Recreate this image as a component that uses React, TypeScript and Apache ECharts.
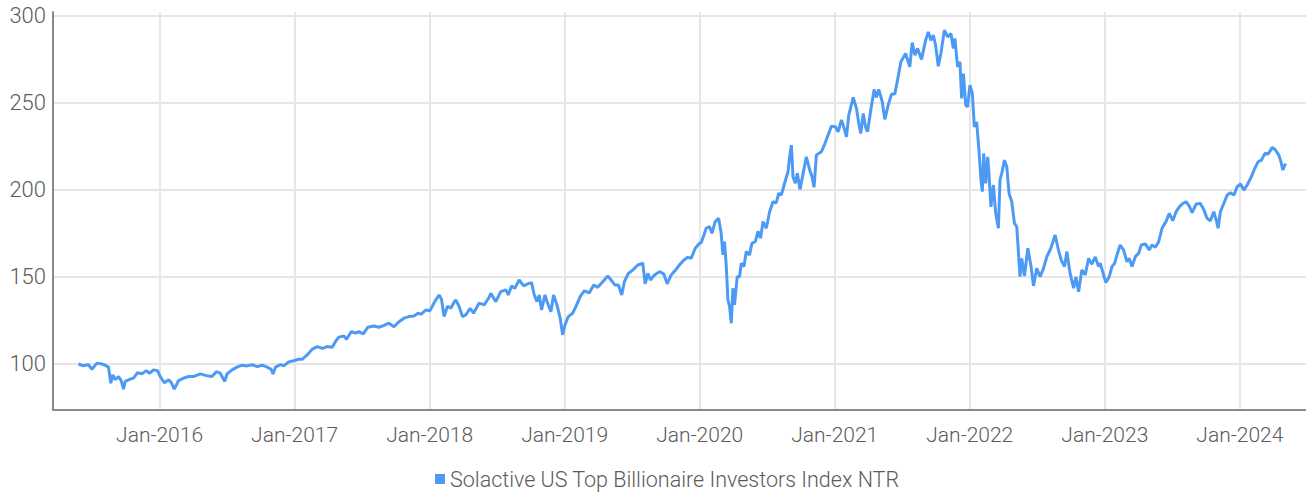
import React, { useEffect, useRef } from "react";
import * as echarts from "echarts";

// Dates as decimal years
const dates: number[] = [
  2015.399, 2015.436, 2015.473, 2015.499, 2015.536, 2015.573, 2015.597, 2015.622, 2015.639, 2015.654,
  2015.671, 2015.696, 2015.716, 2015.733, 2015.746, 2015.783, 2015.807, 2015.837, 2015.869, 2015.901,
  2015.926, 2015.956, 2015.985, 2016.005, 2016.035, 2016.067, 2016.087, 2016.109, 2016.141, 2016.178,
  2016.215, 2016.252, 2016.302, 2016.352, 2016.389, 2016.421, 2016.45, 2016.482, 2016.5, 2016.537,
  2016.574, 2016.611, 2016.648, 2016.685, 2016.723, 2016.76, 2016.797, 2016.826, 2016.841, 2016.858,
  2016.895, 2016.92, 2016.957, 2016.994, 2017.031,
  2017.056, 2017.093, 2017.131, 2017.168, 2017.205, 2017.242, 2017.279, 2017.303, 2017.328, 2017.365,
  2017.385, 2017.42, 2017.452, 2017.476, 2017.509, 2017.543, 2017.588, 2017.625, 2017.662, 2017.699,
  2017.736, 2017.773, 2017.81, 2017.847, 2017.884, 2017.914, 2017.939, 2017.971, 2018.003, 2018.038,
  2018.07, 2018.088, 2018.107, 2018.132, 2018.157, 2018.177, 2018.194, 2018.218, 2018.243, 2018.268,
  2018.3, 2018.325, 2018.366, 2018.404, 2018.441,
  2018.453, 2018.49, 2018.527, 2018.565, 2018.582, 2018.607, 2018.631, 2018.663, 2018.696, 2018.726,
  2018.755, 2018.775, 2018.795, 2018.812, 2018.829, 2018.854, 2018.874, 2018.898, 2018.918, 2018.943,
  2018.967, 2018.985, 2019.002, 2019.027, 2019.059, 2019.084, 2019.116, 2019.145, 2019.183, 2019.215,
  2019.245, 2019.282, 2019.319, 2019.344, 2019.373, 2019.398, 2019.423, 2019.442, 2019.472, 2019.504,
  2019.542, 2019.579, 2019.596, 2019.616, 2019.635, 2019.665, 2019.702, 2019.734, 2019.759, 2019.789,
  2019.818, 2019.85, 2019.883, 2019.912, 2019.937, 2019.967, 2019.999,
  2020.011, 2020.036, 2020.048, 2020.073, 2020.091, 2020.115, 2020.14, 2020.159, 2020.172, 2020.184,
  2020.197, 2020.209, 2020.221, 2020.234, 2020.246, 2020.258, 2020.278, 2020.295, 2020.308, 2020.328,
  2020.345, 2020.369, 2020.387, 2020.412, 2020.432, 2020.451, 2020.469, 2020.493, 2020.518, 2020.543,
  2020.567, 2020.585, 2020.605, 2020.625, 2020.654, 2020.666, 2020.679, 2020.691, 2020.708, 2020.723,
  2020.743, 2020.766, 2020.79, 2020.815, 2020.832, 2020.847, 2020.864, 2020.901, 2020.926, 2020.951,
  2020.976, 2021.005, 2021.025, 2021.05, 2021.07, 2021.087, 2021.104, 2021.137, 2021.161, 2021.178,
  2021.193, 2021.211, 2021.228, 2021.243, 2021.267, 2021.292, 2021.309, 2021.326, 2021.352, 2021.371,
  2021.396, 2021.421, 2021.445, 2021.465, 2021.49,
  2021.525, 2021.556, 2021.574, 2021.594, 2021.614, 2021.643, 2021.673, 2021.693, 2021.712, 2021.73,
  2021.747, 2021.767, 2021.786, 2021.812, 2021.836, 2021.861, 2021.878, 2021.89, 2021.91, 2021.927,
  2021.94, 2021.953, 2021.97, 2021.984, 2022.001, 2022.019, 2022.034, 2022.051, 2022.068, 2022.083,
  2022.093, 2022.103, 2022.118, 2022.133, 2022.142, 2022.157, 2022.175, 2022.192, 2022.212, 2022.224,
  2022.237, 2022.257, 2022.274, 2022.291, 2022.311, 2022.331, 2022.348, 2022.361, 2022.372, 2022.385,
  2022.405, 2022.43, 2022.454, 2022.472, 2022.496, 2022.521, 2022.546, 2022.571, 2022.595, 2022.613,
  2022.632, 2022.657, 2022.677, 2022.702, 2022.719, 2022.743, 2022.769, 2022.786, 2022.806, 2022.83,
  2022.855, 2022.88, 2022.904, 2022.929, 2022.954, 2022.966, 2022.991,
  2023.008, 2023.033, 2023.053, 2023.073, 2023.09, 2023.114, 2023.139, 2023.164, 2023.181, 2023.201,
  2023.226, 2023.251, 2023.27, 2023.3, 2023.329, 2023.349, 2023.374, 2023.399, 2023.424, 2023.453,
  2023.478, 2023.503, 2023.528, 2023.552, 2023.577, 2023.602, 2023.626, 2023.646, 2023.676, 2023.708,
  2023.733, 2023.757, 2023.782, 2023.807, 2023.824, 2023.839, 2023.856, 2023.881, 2023.906, 2023.93,
  2023.956, 2023.98, 2024.005, 2024.03, 2024.054, 2024.086, 2024.111, 2024.136, 2024.16, 2024.186,
  2024.21, 2024.24, 2024.264, 2024.289, 2024.304, 2024.319, 2024.338,
];

const values: number[] = [
  100, 99, 99.6, 97, 100.5, 100, 99.3, 98.2, 89, 93.8,
  91, 92.8, 90.5, 85.6, 90, 91.3, 91.9, 95, 94.3, 96.2,
  94.7, 96.6, 96.2, 92.8, 89.3, 90.9, 89.3, 85.6, 90.5, 91.9,
  92.8, 92.8, 94.3, 93.2, 92.8, 95.6, 94.7, 90, 94.3, 96.6,
  98.2, 99.3, 98.9, 99.6, 98.5, 99.3, 98.2, 97, 94.3, 98.2,
  99.6, 98.9, 101.2, 101.9, 102.7,
  102.7, 105.2, 108.5, 110, 109, 110, 109.6, 112.9, 115.4, 116.1,
  114.2, 118.6, 117.7, 118.6, 117.3, 121.1, 121.8, 121.1, 122.2, 123.4,
  121.4, 124.3, 126.3, 127.2, 127.6, 129.1, 128.6, 131, 130.6, 135.8,
  139.6, 137.2, 127.2, 133.1, 132, 134.9, 136.8, 133.1, 127.2, 128.2,
  132, 129.1, 134.9, 133.9, 138.3,
  140.6, 135.8, 141.5, 142.5, 139.6, 144.8, 143.5, 148.2, 144.8, 146,
  146.7, 139.6, 135.8, 139.6, 131, 139.6, 134.9, 130, 139.6, 133.9,
  126.3, 116.7, 122.4, 127.2, 129.1, 133.1, 138.8, 142, 140.9, 145.3,
  144, 147.2, 150.5, 148.2, 145.3, 145.3, 139.6, 147.2, 152, 153.9,
  156.8, 157.8, 146, 152, 148.2, 151.1, 153, 151.7, 146, 151.1,
  153.6, 156.8, 159.7, 161.2, 160.6, 166.4, 169.3,
  169.6, 175, 177.9, 178.8, 175, 181.7, 183.6, 175, 162.6, 170.2,
  155.9, 136.8, 133.1, 123.4, 143.5, 133.9, 150.1, 150.1, 157.8, 155.9,
  164.5, 162.6, 169.3, 170.2, 176.1, 172.2, 181.7, 177.9, 187.4, 193.1,
  192.5, 197.9, 197, 202.7, 210.3, 218.9, 225.6, 207.5, 203.7, 209.4,
  200.2, 209.4, 218.9, 211.3, 207.5, 201.4, 219.9, 221.8, 226.2, 231.4,
  236.5, 236.1, 233.3, 240, 235.2, 230.4, 242.8, 253, 246.7, 238.1,
  232.3, 243.8, 236.1, 233.3, 245.7, 257.6, 253, 257.6, 250.5, 240.4,
  248.6, 254.9, 254.9, 262.9, 273.4,
  278.2, 270.5, 284.4, 277.2, 281.1, 274.8, 285.8, 290.6, 285.8, 288.7,
  283, 270.9, 278.2, 291.6, 287.7, 289.7, 281.1, 286.8, 270.5, 273.4,
  252.4, 266.7, 248.6, 247.6, 260, 255.3, 236.1, 239, 222.8, 205.6,
  198.9, 220.9, 203.7, 218.9, 209.4, 190.2, 202.7, 186.5, 177.9, 205.6,
  209.4, 217, 213.2, 197.9, 193.1, 180.7, 178.8, 163.5, 150.1, 160.6,
  150.5, 166.4, 155.9, 144.8, 154.9, 150.1, 154.9, 161.6, 165.4, 169.3,
  174, 165.4, 159.7, 155.9, 164.5, 152, 143.5, 150.1, 141.5, 154,
  151.1, 160.6, 157.3, 161.4, 155.9, 157.8, 151.1,
  146.7, 150.1, 155.9, 157.8, 162.6, 168.3, 165.4, 158.7, 160.6, 155.9,
  161.6, 163.5, 168.3, 168.9, 165.4, 168.3, 167, 170.2, 177.9, 181.7,
  186.5, 182.2, 187.4, 190.2, 192.1, 193.1, 190.6, 186.8, 191.8, 192.1,
  188.6, 183.6, 182.2, 187.4, 183, 177.9, 187.4, 192.1, 196.9, 198.3,
  196.9, 201.7, 203.3, 199.8, 202.7, 207.5, 212.3, 216.1, 217, 220.9,
  220.5, 224.3, 222.8, 219.9, 216.1, 211.3, 215.1,
];

const seriesName = "Solactive US Top Billionaire Investors Index NTR";
const yTicks: number[] = [100, 150, 200, 250, 300];
const yearTicks: number[] = [2016, 2017, 2018, 2019, 2020, 2021, 2022, 2023, 2024];

const FONT = "Roboto, 'Liberation Sans', sans-serif";
const TEXT_COLOR = "#5b5b5b";
const LINE_COLOR = "#4d9af5";

export default function App() {
  const ref = useRef<HTMLDivElement>(null);

  useEffect(() => {
    if (!ref.current) return;
    const chart = echarts.init(ref.current, undefined, { renderer: "svg" });
    const data = dates.map((d, i) => [d, values[i]]);
    chart.setOption({
      animation: false,
      backgroundColor: "#ffffff",
      textStyle: { fontFamily: FONT },
      grid: { left: 53, right: 0, top: 12, bottom: 85, containLabel: false },
      legend: {
        show: true,
        left: 430,
        top: 463,
        icon: "rect",
        itemWidth: 10,
        itemHeight: 10,
        itemGap: 5,
        textStyle: { color: TEXT_COLOR, fontSize: 21.5, fontWeight: 300, fontFamily: FONT },
        data: [seriesName],
      },
      xAxis: {
        type: "value",
        min: 2015.211,
        max: 2024.49,
        minInterval: 1,
        maxInterval: 1,
        axisLine: { show: true, lineStyle: { color: "#8a8a8a", width: 2 } },
        axisTick: { show: false },
        axisLabel: {
          color: TEXT_COLOR,
          fontSize: 21,
          fontWeight: 300,
          fontFamily: FONT,
          margin: 14,
          showMinLabel: false,
          showMaxLabel: false,
          formatter: (v: number) => {
            const r = Math.round(v);
            return Math.abs(v - r) < 1e-6 && yearTicks.includes(r) ? "Jan-" + r : "";
          },
        },
        splitLine: {
          show: true,
          showMinLine: false,
          showMaxLine: false,
          lineStyle: { color: "#e6e6e6", width: 2 },
        },
      },
      yAxis: {
        type: "value",
        min: 73.6,
        max: 302,
        splitNumber: 5,
        axisLine: { show: true, lineStyle: { color: "#8a8a8a", width: 2 } },
        axisTick: { show: false },
        axisLabel: {
          color: TEXT_COLOR,
          fontSize: 22,
          fontWeight: 300,
          fontFamily: FONT,
          margin: 7,
          showMinLabel: false,
          showMaxLabel: false,
          formatter: (v: number) => (yTicks.includes(Math.round(v)) && Math.abs(v - Math.round(v)) < 1e-6 ? String(Math.round(v)) : ""),
        },
        splitLine: {
          show: true,
          showMinLine: false,
          showMaxLine: false,
          lineStyle: { color: "#e6e6e6", width: 2 },
        },
      },
      series: [
        {
          name: seriesName,
          type: "line",
          data,
          showSymbol: false,
          symbol: "none",
          color: LINE_COLOR,
          lineStyle: { color: LINE_COLOR, width: 3 },
          z: 3,
        },
      ],
    });
    return () => chart.dispose();
  }, []);

  return (
    <div
      ref={ref}
      style={{ position: "absolute", left: 0, top: 0, width: 1306, height: 495 }}
    />
  );
}
